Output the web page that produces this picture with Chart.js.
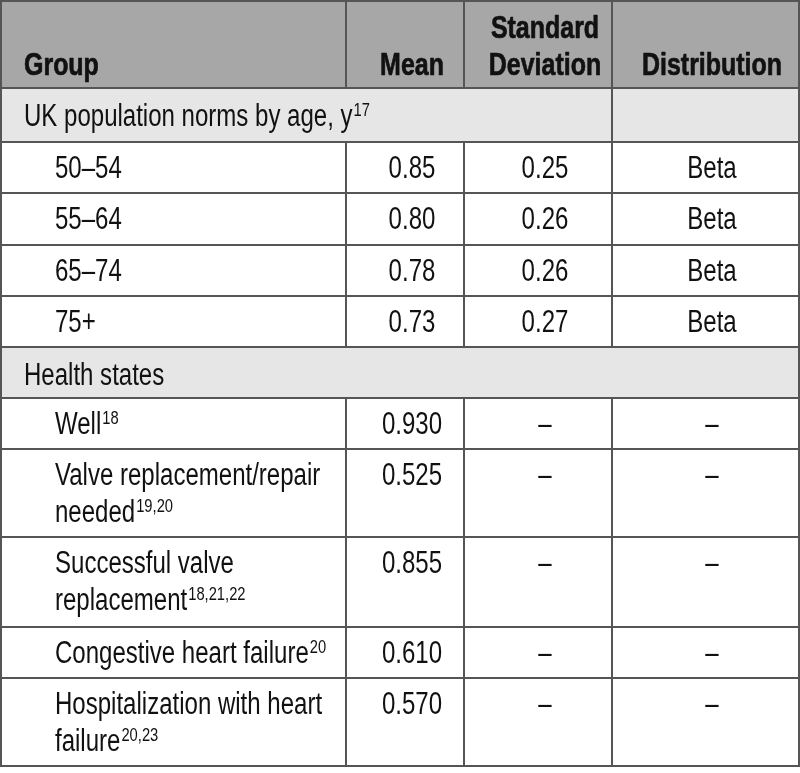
<!DOCTYPE html>
<html>
<head>
<meta charset="utf-8">
<script src="https://cdn.jsdelivr.net/npm/chart.js@4/dist/chart.umd.min.js"></script>
<style>
  html, body { margin: 0; padding: 0; background: #ffffff; }
  #wrap { width: 800px; height: 773px; }
</style>
</head>
<body>
<div id="wrap"><canvas id="c" width="800" height="773"></canvas></div>
<script>
// ---------- DATA ----------
const headerLabels = [['Group'], ['Mean'], ['Standard', 'Deviation'], ['Distribution']];
const sectionLabels = ['UK population norms by age, y', 'Health states'];
const sectionRefs = ['17', ''];
const sectionSizes = [4, 5];
const groupLines = [
  ['50–54'], ['55–64'], ['65–74'], ['75+'],
  ['Well'],
  ['Valve replacement/repair', 'needed'],
  ['Successful valve', 'replacement'],
  ['Congestive heart failure'],
  ['Hospitalization with heart', 'failure']
];
const groupRefs = ['', '', '', '', '18', '19,20', '18,21,22', '20', '20,23'];
const meanValues = [0.85, 0.80, 0.78, 0.73, 0.930, 0.525, 0.855, 0.610, 0.570];
const meanDecimals = [2, 2, 2, 2, 3, 3, 3, 3, 3];
const sdValues = [0.25, 0.26, 0.26, 0.27, null, null, null, null, null];
const distributions = ['Beta', 'Beta', 'Beta', 'Beta', null, null, null, null, null];

// ---------- LAYOUT (table units) ----------
const colEdges = [1, 346, 464, 612, 799];
const colCenters = [null, 412, 545, 712];
const rowEdges = [1, 88, 142, 193, 245, 296, 347, 398, 449, 537, 627, 678, 766];
const sectionSpan = [3, 4];

const FONT = '"Liberation Sans", Arial, sans-serif';
const BODY_SIZE = 31, BODY_NARROW = 0.775;
const HEAD_SIZE = 32, HEAD_NARROW = 0.78;
const TEXT = '#111111';
const LINE = '#555555';

function txt(ctx, text, x, y, align, k, stroke) {
  ctx.save();
  ctx.translate(x, y);
  ctx.scale(k, 1);
  ctx.textAlign = align || 'left';
  ctx.fillText(text, 0, 0);
  if (stroke) {
    ctx.strokeStyle = ctx.fillStyle;
    ctx.lineWidth = stroke;
    ctx.lineJoin = 'round';
    ctx.strokeText(text, 0, 0);
  }
  ctx.restore();
}

function drawWithSup(ctx, text, sup, x, y) {
  ctx.font = BODY_SIZE + 'px ' + FONT;
  txt(ctx, text, x, y, 'left', BODY_NARROW);
  if (sup) {
    const w = ctx.measureText(text).width * BODY_NARROW;
    ctx.font = '19px ' + FONT;
    txt(ctx, sup, x + w + 1, y - 10, 'left', BODY_NARROW);
  }
}

const tablePlugin = {
  id: 'tablePlugin',
  afterDraw(chart) {
    const ctx = chart.ctx;
    const sx = chart.scales.x, sy = chart.scales.y;
    const px = v => sx.getPixelForValue(v);
    const py = v => sy.getPixelForValue(v);
    ctx.save();

    const rows = [{ kind: 'header' }];
    let g = 0;
    sectionLabels.forEach((s, si) => {
      rows.push({ kind: 'section', si });
      for (let k = 0; k < sectionSizes[si]; k++) rows.push({ kind: 'data', gi: g++ });
    });

    rows.forEach((r, ri) => {
      const y0 = py(rowEdges[ri]), y1 = py(rowEdges[ri + 1]);
      if (r.kind === 'header' || r.kind === 'section') {
        ctx.fillStyle = r.kind === 'header' ? '#a7a7a7' : '#e6e6e6';
        ctx.fillRect(px(colEdges[0]), y0, px(colEdges[4]) - px(colEdges[0]), y1 - y0);
      }
    });

    ctx.strokeStyle = LINE;
    ctx.lineWidth = 2;
    rowEdges.forEach(e => {
      ctx.beginPath();
      ctx.moveTo(px(colEdges[0]) - 1, py(e));
      ctx.lineTo(px(colEdges[4]) + 1, py(e));
      ctx.stroke();
    });
    rows.forEach((r, ri) => {
      const y0 = py(rowEdges[ri]), y1 = py(rowEdges[ri + 1]);
      colEdges.forEach((e, ci) => {
        if (r.kind === 'section' && ci > 0 && ci < 4 && ci < sectionSpan[r.si]) return;
        ctx.beginPath();
        ctx.moveTo(px(e), y0);
        ctx.lineTo(px(e), y1);
        ctx.stroke();
      });
    });

    ctx.fillStyle = TEXT;
    ctx.textBaseline = 'alphabetic';
    rows.forEach((r, ri) => {
      const top = py(rowEdges[ri]);
      if (r.kind === 'header') {
        ctx.font = 'bold ' + HEAD_SIZE + 'px ' + FONT;
        headerLabels.forEach((lines, ci) => {
          const n = lines.length;
          lines.forEach((ln, li) => {
            const by = top + 74 - (n - 1 - li) * 37;
            if (ci === 0) txt(ctx, ln, px(24), by, 'left', HEAD_NARROW, 0.7);
            else txt(ctx, ln, px(colCenters[ci]), by, 'center', HEAD_NARROW, 0.7);
          });
        });
      } else if (r.kind === 'section') {
        drawWithSup(ctx, sectionLabels[r.si], sectionRefs[r.si], px(24), top + 38);
      } else {
        const gi = r.gi;
        const base = top + 36;
        groupLines[gi].forEach((ln, li) => {
          const last = li === groupLines[gi].length - 1;
          drawWithSup(ctx, ln, last ? groupRefs[gi] : '', px(55), base + li * 37);
        });
        ctx.font = BODY_SIZE + 'px ' + FONT;
        txt(ctx, meanValues[gi].toFixed(meanDecimals[gi]), px(colCenters[1]), base, 'center', BODY_NARROW);
        txt(ctx, sdValues[gi] === null ? '–' : sdValues[gi].toFixed(2), px(colCenters[2]), base, 'center', BODY_NARROW);
        txt(ctx, distributions[gi] === null ? '–' : distributions[gi], px(colCenters[3]), base, 'center', BODY_NARROW);
      }
    });
    ctx.restore();
  }
};

new Chart(document.getElementById('c'), {
  type: 'scatter',
  data: { datasets: [{ data: [], pointRadius: 0 }] },
  options: {
    responsive: false,
    animation: false,
    layout: { padding: 0 },
    plugins: { legend: { display: false }, title: { display: false }, tooltip: { enabled: false } },
    scales: {
      x: { type: 'linear', min: 0, max: 800, display: false },
      y: { type: 'linear', min: 0, max: 773, reverse: true, display: false }
    }
  },
  plugins: [tablePlugin]
});
</script>
</body>
</html>
